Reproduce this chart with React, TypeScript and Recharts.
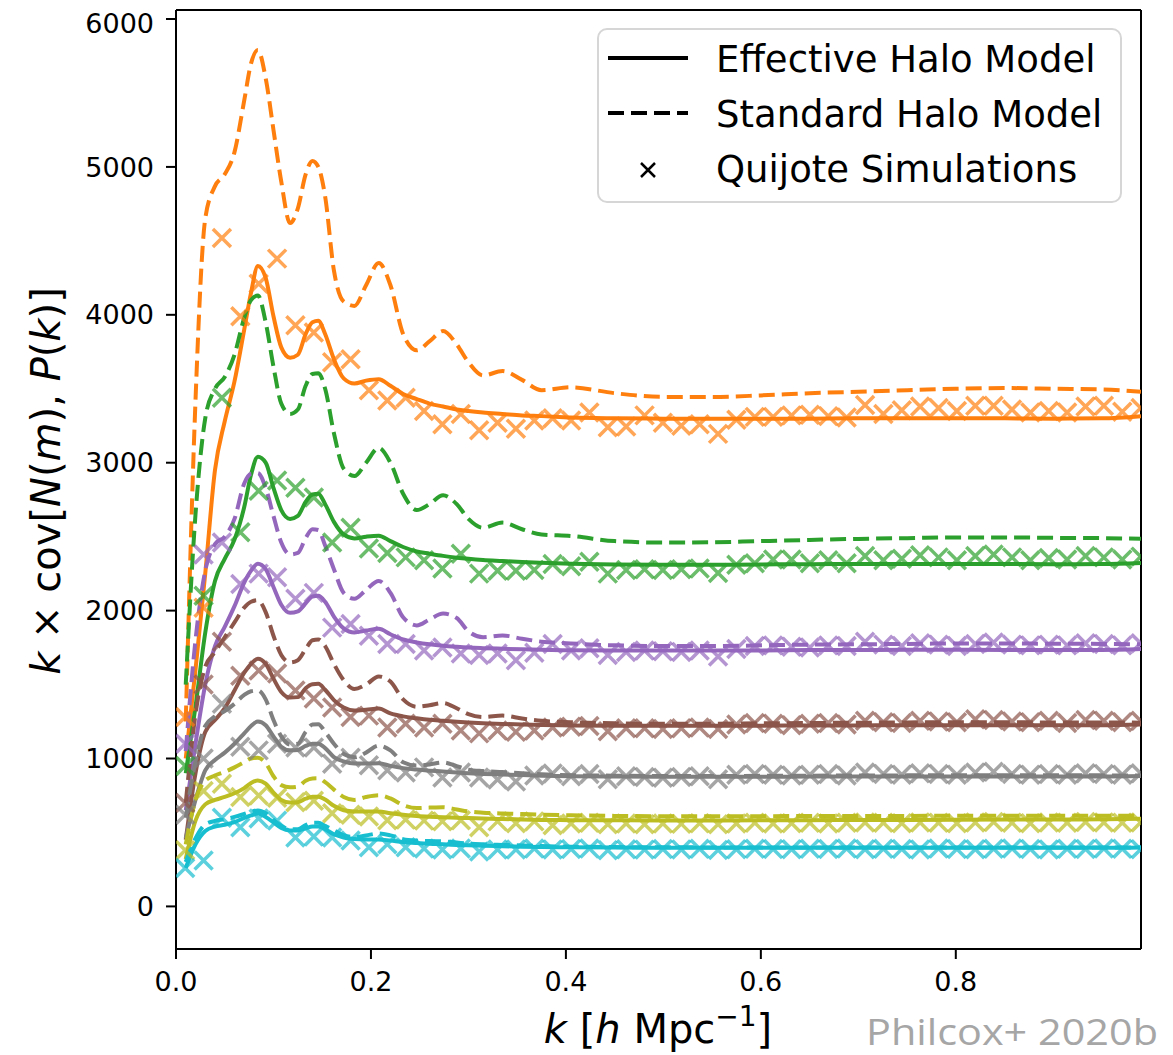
import { ComposedChart, Line, Scatter, XAxis, YAxis, ReferenceLine, Legend } from 'recharts';

const FONT = 'DejaVu Sans';

const X_TICKS = [0, 0.2, 0.4, 0.6, 0.8];
const Y_TICKS = [0, 1000, 2000, 3000, 4000, 5000, 6000];
const X_DOMAIN: [number, number] = [0, 0.99];
const Y_DOMAIN: [number, number] = [-288, 6061];

// k grid the halo-model curves are sampled on
const K_MODEL = [
  0.01, 0.02, 0.03, 0.04, 0.05, 0.06, 0.07, 0.077, 0.084, 0.092, 0.1, 0.108, 0.117, 0.125, 0.133, 0.14,
  0.146, 0.153, 0.162, 0.172, 0.183, 0.195, 0.208, 0.22, 0.233, 0.247, 0.26, 0.274, 0.288, 0.3, 0.315,
  0.335, 0.355, 0.375, 0.405, 0.45, 0.5, 0.55, 0.6, 0.65, 0.7, 0.75, 0.8, 0.85, 0.9, 0.95, 0.99,
];

// Quijote k-bin centres
const K_SIM = [
  0.0094, 0.0283, 0.0471, 0.066, 0.0848, 0.1037, 0.1225, 0.1414, 0.1602, 0.1791, 0.1979, 0.2168, 0.2356,
  0.2545, 0.2733, 0.2922, 0.311, 0.3299, 0.3487, 0.3676, 0.3864, 0.4053, 0.4241, 0.443, 0.4618, 0.4807,
  0.4995, 0.5184, 0.5372, 0.5561, 0.5749, 0.5938, 0.6126, 0.6315, 0.6503, 0.6692, 0.688, 0.7069, 0.7257,
  0.7446, 0.7634, 0.7823, 0.8011, 0.82, 0.8388, 0.8577, 0.8765, 0.8954, 0.9142, 0.9331, 0.9519, 0.9708, 0.9896,
];

const ORANGE_SHM = [
  1250, 3420, 4650, 4870, 4950, 5100, 5450, 5700, 5790, 5600, 5250, 4900, 4620, 4720, 4950, 5040,
  5000, 4800, 4300, 4090, 4060, 4200, 4350, 4200, 3870, 3760, 3820, 3890, 3800, 3680, 3590,
  3620, 3560, 3490, 3510, 3470, 3445, 3445, 3455, 3470, 3480, 3490, 3500, 3505, 3500, 3495, 3480,
];
const ORANGE_EHM = [
  1000, 1600, 2250, 2950, 3280, 3550, 3900, 4150, 4330, 4250, 3990, 3780, 3710, 3730, 3870, 3950,
  3960, 3870, 3700, 3570, 3535, 3555, 3565, 3520, 3465, 3430, 3400, 3380, 3360, 3350, 3340,
  3330, 3320, 3315, 3305, 3300, 3298, 3297, 3297, 3298, 3300, 3300, 3300, 3300, 3298, 3300, 3315,
];
const ORANGE_SIM = [
  1280, 2020, 4520, 3990, 4210, 4380, 3930, 3880, 3680, 3700, 3490, 3420, 3440, 3350, 3260, 3330,
  3220, 3270, 3230, 3285, 3300, 3285, 3340, 3240, 3245, 3320, 3270, 3250, 3260, 3195, 3290, 3310,
  3310, 3320, 3325, 3315, 3305, 3390, 3330, 3355, 3380, 3370, 3350, 3385, 3385, 3360, 3340, 3350,
  3340, 3380, 3385, 3345, 3370,
];

const GREEN_SHM = [
  1500, 2650, 3300, 3500, 3580, 3730, 3980, 4100, 4130, 3950, 3650, 3400, 3330, 3360, 3520, 3600,
  3605, 3500, 3200, 2960, 2910, 3000, 3100, 3000, 2790, 2680, 2720, 2780, 2720, 2620, 2560,
  2595, 2550, 2515, 2505, 2470, 2460, 2462, 2470, 2478, 2485, 2490, 2495, 2495, 2492, 2490, 2486,
];
const GREEN_EHM = [
  900, 1350, 1850, 2200, 2350, 2480, 2700, 2920, 3040, 3000, 2830, 2680, 2620, 2640, 2735, 2785,
  2790, 2720, 2600, 2515, 2488, 2500, 2507, 2470, 2430, 2400, 2385, 2370, 2358, 2350, 2342,
  2335, 2328, 2323, 2317, 2312, 2310, 2310, 2312, 2314, 2315, 2316, 2316, 2315, 2314, 2315, 2322,
];
const GREEN_SIM = [
  950, 2100, 3440, 2530, 2810, 2880, 2830, 2765, 2460, 2560, 2420, 2390, 2360, 2340, 2285, 2385,
  2250, 2270, 2270, 2275, 2315, 2300, 2330, 2250, 2275, 2280, 2275, 2280, 2285, 2255, 2310, 2320,
  2345, 2345, 2320, 2340, 2320, 2370, 2340, 2350, 2375, 2360, 2340, 2370, 2380, 2360, 2340, 2355,
  2345, 2370, 2360, 2345, 2365,
];

const PURPLE_SHM = [
  1050, 1800, 2270, 2450, 2500, 2620, 2860, 2925, 2930, 2830, 2640, 2460, 2380, 2390, 2490, 2550,
  2545, 2440, 2280, 2120, 2080, 2140, 2200, 2120, 1955, 1900, 1940, 1980, 1950, 1860, 1820,
  1832, 1810, 1790, 1778, 1765, 1760, 1760, 1765, 1770, 1772, 1775, 1778, 1778, 1776, 1775, 1772,
];
const PURPLE_EHM = [
  650, 1100, 1500, 1760, 1890, 2030, 2190, 2270, 2317, 2280, 2160, 2040, 1985, 1995, 2050, 2095,
  2100, 2060, 1960, 1880, 1852, 1865, 1877, 1840, 1805, 1785, 1772, 1762, 1755, 1750, 1746,
  1742, 1738, 1735, 1732, 1730, 1730, 1730, 1731, 1733, 1734, 1735, 1735, 1734, 1734, 1734, 1740,
];
const PURPLE_SIM = [
  1100, 2380, 2460, 2180, 2250, 2225, 2080, 2120, 1885, 1910, 1830, 1775, 1775, 1730, 1750, 1710,
  1700, 1710, 1665, 1715, 1775, 1730, 1745, 1700, 1720, 1730, 1725, 1720, 1730, 1690, 1740, 1760,
  1765, 1755, 1750, 1765, 1760, 1790, 1770, 1760, 1780, 1770, 1760, 1775, 1785, 1770, 1765, 1770,
  1765, 1780, 1775, 1765, 1780,
];

const BROWN_SHM = [
  700, 1300, 1620, 1720, 1820, 1920, 2020, 2060, 2070, 1990, 1830, 1700, 1650, 1665, 1740, 1800,
  1805, 1760, 1640, 1530, 1470, 1500, 1555, 1520, 1400, 1350, 1360, 1375, 1340, 1300, 1280,
  1290, 1270, 1255, 1245, 1238, 1235, 1235, 1238, 1240, 1242, 1244, 1245, 1245, 1244, 1244, 1242,
];
const BROWN_EHM = [
  450, 900, 1180, 1260, 1340, 1460, 1580, 1640, 1675, 1640, 1540, 1450, 1412, 1415, 1475, 1502,
  1505, 1465, 1395, 1345, 1325, 1330, 1338, 1305, 1285, 1272, 1262, 1255, 1248, 1243, 1238,
  1234, 1230, 1227, 1224, 1222, 1221, 1221, 1222, 1223, 1224, 1225, 1225, 1225, 1225, 1225, 1230,
];
const BROWN_SIM = [
  700, 1500, 1790, 1560, 1595, 1575, 1460, 1405, 1345, 1280, 1290, 1210, 1235, 1210, 1235, 1190,
  1170, 1190, 1180, 1190, 1210, 1215, 1220, 1185, 1205, 1205, 1200, 1205, 1210, 1200, 1230, 1240,
  1235, 1225, 1235, 1240, 1230, 1255, 1245, 1240, 1255, 1250, 1245, 1265, 1260, 1250, 1245, 1255,
  1240, 1260, 1255, 1245, 1255,
];

const GRAY_SHM = [
  600, 980, 1220, 1285, 1320, 1370, 1430, 1455, 1460, 1400, 1260, 1150, 1095, 1100, 1180, 1230,
  1232, 1180, 1100, 1030, 1008, 1040, 1088, 1055, 975, 952, 960, 973, 948, 925, 915,
  908, 900, 893, 887, 884, 882, 882, 883, 884, 885, 886, 887, 887, 887, 886, 885,
];
const GRAY_EHM = [
  460, 720, 920, 990, 1040, 1100, 1170, 1220, 1250, 1225, 1150, 1080, 1055, 1058, 1085, 1100,
  1100, 1070, 1010, 980, 966, 966, 968, 950, 935, 925, 918, 912, 905, 900, 896,
  892, 888, 884, 880, 878, 877, 877, 877, 878, 878, 879, 879, 879, 879, 879, 882,
];
const GRAY_SIM = [
  620, 1000, 1370, 1080, 1055, 1100, 1075, 1075, 965, 1005, 955, 920, 905, 940, 872, 905,
  872, 858, 845, 885, 898, 880, 895, 860, 880, 875, 870, 875, 880, 860, 890, 895,
  890, 885, 890, 895, 885, 905, 895, 890, 900, 895, 890, 905, 910, 895, 890, 895,
  890, 900, 895, 890, 900,
];

const OLIVE_SHM = [
  420, 720, 850, 885, 910, 940, 975, 1000, 1005, 970, 880, 820, 805, 810, 850, 865,
  866, 840, 790, 740, 720, 740, 752, 730, 685, 665, 668, 670, 655, 642, 634,
  628, 624, 620, 616, 612, 610, 610, 610, 611, 612, 612, 613, 613, 613, 613, 612,
];
const OLIVE_EHM = [
  320, 580, 690, 720, 740, 765, 800, 835, 851, 830, 770, 720, 703, 705, 728, 742,
  742, 722, 680, 650, 642, 642, 642, 630, 620, 612, 607, 603, 600, 597, 594,
  591, 588, 585, 583, 582, 581, 581, 582, 583, 584, 585, 586, 587, 588, 589, 592,
];
const OLIVE_SIM = [
  380, 780, 830, 740, 750, 735, 705, 715, 630, 620, 608, 582, 588, 580, 575, 582,
  535, 575, 562, 575, 548, 560, 565, 555, 560, 555, 560, 558, 562, 555, 560, 565,
  560, 562, 565, 560, 565, 568, 565, 562, 568, 565, 562, 568, 570, 565, 562, 568,
  565, 570, 568, 565, 568,
];

const CYAN_SHM = [
  300, 460, 555, 578, 590, 605, 625, 640, 649, 630, 585, 545, 522, 522, 550, 566,
  566, 545, 515, 482, 468, 480, 493, 480, 455, 445, 442, 440, 432, 425, 420,
  416, 412, 408, 404, 401, 400, 399, 399, 399, 399, 399, 399, 399, 399, 399, 399,
];
const CYAN_EHM = [
  260, 420, 510, 540, 552, 570, 598, 615, 628, 605, 568, 530, 514, 514, 528, 540,
  540, 522, 488, 466, 456, 453, 453, 445, 435, 428, 423, 420, 416, 413, 410,
  407, 404, 402, 400, 398, 397, 396, 396, 396, 396, 396, 396, 396, 396, 396, 399,
];
const CYAN_SIM = [
  260, 310, 600, 535, 595, 580, 466, 473, 466, 446, 400, 420, 400, 392, 385, 392,
  372, 385, 385, 392, 385, 388, 392, 380, 386, 384, 388, 385, 390, 382, 386, 390,
  388, 386, 390, 388, 392, 386, 390, 388, 385, 392, 388, 386, 390, 392, 388, 385,
  390, 388, 392, 390, 386,
];

const BINS = [
  { id: 'orange', color: '#ff7f0e', ehm: ORANGE_EHM, shm: ORANGE_SHM, sim: ORANGE_SIM },
  { id: 'green', color: '#2ca02c', ehm: GREEN_EHM, shm: GREEN_SHM, sim: GREEN_SIM },
  { id: 'purple', color: '#9467bd', ehm: PURPLE_EHM, shm: PURPLE_SHM, sim: PURPLE_SIM },
  { id: 'brown', color: '#8c564b', ehm: BROWN_EHM, shm: BROWN_SHM, sim: BROWN_SIM },
  { id: 'gray', color: '#7f7f7f', ehm: GRAY_EHM, shm: GRAY_SHM, sim: GRAY_SIM },
  { id: 'olive', color: '#bcbd22', ehm: OLIVE_EHM, shm: OLIVE_SHM, sim: OLIVE_SIM },
  { id: 'cyan', color: '#17becf', ehm: CYAN_EHM, shm: CYAN_SHM, sim: CYAN_SIM },
];

const toPoints = (ks: number[], vs: number[]) => ks.map((k, i) => ({ k, v: vs[i] }));

// matplotlib-style 'x' marker
function makeCross(color: string) {
  return (props: any) => {
    const { cx, cy } = props;
    if (cx == null || cy == null) return <g />;
    const r = 9;
    return (
      <path
        d={`M${cx - r},${cy - r}L${cx + r},${cy + r}M${cx - r},${cy + r}L${cx + r},${cy - r}`}
        stroke={color}
        strokeOpacity={0.7}
        strokeWidth={3.5}
        fill="none"
      />
    );
  };
}

function XTitle() {
  return (
    <g fontFamily={FONT} fill="#000">
      <text x={650} y={1035} textAnchor="middle" fontSize={40}>
        <tspan fontStyle="italic">k</tspan>
        <tspan> [</tspan>
        <tspan fontStyle="italic">h</tspan>
        <tspan> Mpc</tspan>
        <tspan dy={-17} fontSize={28}>−1</tspan>
        <tspan dy={17}>]</tspan>
      </text>
      <text x={858} y={1037} fontSize={36} fontFamily="Open Sans" fill="#a6a6a6" textLength={292} lengthAdjust="spacingAndGlyphs">
        Philcox+ 2020b
      </text>
    </g>
  );
}

function YTitle() {
  const x = 52;
  const y = 473;
  return (
    <text x={x} y={y} transform={`rotate(-90 ${x} ${y})`} textAnchor="middle" fontFamily={FONT} fontSize={40} fill="#000">
      <tspan fontStyle="italic">k</tspan>
      <tspan> × cov[</tspan>
      <tspan fontStyle="italic">N</tspan>
      <tspan>(</tspan>
      <tspan fontStyle="italic">m</tspan>
      <tspan>), </tspan>
      <tspan fontStyle="italic">P</tspan>
      <tspan>(</tspan>
      <tspan fontStyle="italic">k</tspan>
      <tspan>)]</tspan>
    </text>
  );
}

function LegendBox() {
  return (
    <svg width={525} height={175} style={{ display: 'block' }}>
      <rect x={1} y={1} width={523} height={173} rx={9} fill="#fff" fillOpacity={0.8} stroke="#d6d6d6" strokeWidth={2} />
      <line x1={11} x2={91} y1={30} y2={30} stroke="#000" strokeWidth={4} />
      <line x1={11} x2={91} y1={85} y2={85} stroke="#000" strokeWidth={4} strokeDasharray="16 7" />
      <path d="M44,135L58,149M44,149L58,135" stroke="#000" strokeWidth={2.5} />
      <g fontFamily={FONT} fontSize={37} fill="#000">
        <text x={119} y={44}>Effective Halo Model</text>
        <text x={119} y={99}>Standard Halo Model</text>
        <text x={119} y={154}>Quijote Simulations</text>
      </g>
    </svg>
  );
}

const axisStroke = { stroke: '#000', strokeWidth: 2 };
const tickStyle = { fontSize: 27, fill: '#000', fontFamily: FONT };

export default function App() {
  return (
    <ComposedChart width={1157} height={1047} margin={{ top: 2, right: 24, bottom: 0, left: 0 }}>
      <XAxis
        type="number"
        dataKey="k"
        domain={X_DOMAIN}
        ticks={X_TICKS}
        allowDataOverflow
        height={106}
        tickSize={10}
        tickMargin={13}
        axisLine={axisStroke}
        tickLine={axisStroke}
        tick={tickStyle}
        tickFormatter={(v: number) => v.toFixed(1)}
        label={<XTitle />}
      />
      <YAxis
        type="number"
        dataKey="v"
        domain={Y_DOMAIN}
        ticks={Y_TICKS}
        allowDataOverflow
        width={168}
        tickSize={10}
        tickMargin={12}
        axisLine={axisStroke}
        tickLine={axisStroke}
        tick={tickStyle}
        label={<YTitle />}
      />
      <ReferenceLine y={Y_DOMAIN[1]} stroke="#000" strokeWidth={2} />
      <ReferenceLine x={X_DOMAIN[1]} stroke="#000" strokeWidth={2} />
      {BINS.flatMap((b) => [
        <Line
          key={`${b.id}-ehm`}
          data={toPoints(K_MODEL, b.ehm)}
          dataKey="v"
          type="monotone"
          stroke={b.color}
          strokeWidth={4}
          dot={false}
          activeDot={false}
          legendType="none"
          isAnimationActive={false}
        />,
        <Line
          key={`${b.id}-shm`}
          data={toPoints(K_MODEL, b.shm)}
          dataKey="v"
          type="monotone"
          stroke={b.color}
          strokeWidth={4}
          strokeDasharray="16 7"
          dot={false}
          activeDot={false}
          legendType="none"
          isAnimationActive={false}
        />,
        <Scatter
          key={`${b.id}-sim`}
          data={toPoints(K_SIM, b.sim)}
          dataKey="v"
          shape={makeCross(b.color)}
          legendType="none"
          isAnimationActive={false}
        />,
      ])}
      <Legend
        layout="vertical"
        align="center"
        verticalAlign="middle"
        content={() => <LegendBox />}
        wrapperStyle={{ left: 589, top: 20, width: 525, height: 175 }}
      />
    </ComposedChart>
  );
}
